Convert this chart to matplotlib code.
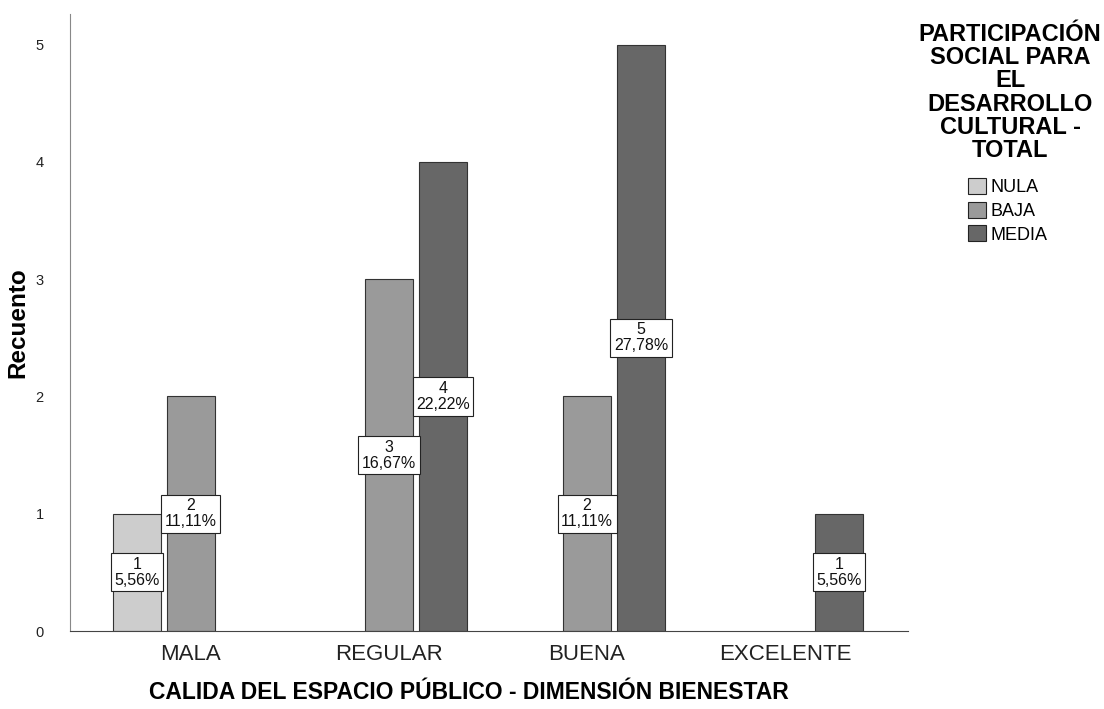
import matplotlib.pyplot as plt
import matplotlib.patches as mpatches
import numpy as np

plt.rcParams['font.family'] = ['Liberation Sans', 'DejaVu Sans']

categorias = ["MALA", "REGULAR", "BUENA", "EXCELENTE"]
grupos = ["NULA", "BAJA", "MEDIA"]
# recuentos por grupo (None = sin barra)
nula = [1, None, None, None]
baja = [2, 3, 2, None]
media = [None, 4, 5, 1]
porcentajes = {
    "NULA": ["5,56%", None, None, None],
    "BAJA": ["11,11%", "16,67%", "11,11%", None],
    "MEDIA": [None, "22,22%", "27,78%", "5,56%"],
}
titulo_leyenda = "PARTICIPACIÓN\nSOCIAL PARA\nEL\nDESARROLLO\nCULTURAL -\nTOTAL"
colores = {"NULA": "#cdcdcd", "BAJA": "#9a9a9a", "MEDIA": "#676767"}

fig = plt.figure(figsize=(11.04, 7.09), dpi=100)
ax = fig.add_axes([0.0634, 0.110, 0.759, 0.870])

x = np.arange(len(categorias))
ancho = 0.2424
paso = 0.2727
series = {"NULA": nula, "BAJA": baja, "MEDIA": media}

for j, g in enumerate(grupos):
    for i, v in enumerate(series[g]):
        if v is None:
            continue
        xp = x[i] + (j - 1) * paso
        ax.bar(xp, v, width=ancho, color=colores[g], edgecolor="#333333",
               linewidth=0.8, zorder=2)
        ax.text(xp, v / 2, f"{v}\n{porcentajes[g][i]}", ha="center", va="center",
                fontsize=11.5, linespacing=1.1, zorder=3, color="#111111",
                bbox=dict(boxstyle="square,pad=0.22", facecolor="white",
                          edgecolor="#222222", linewidth=0.8))

ax.set_xlim(-0.61, 3.62)
ax.set_ylim(0, 5.26)
ax.set_xticks(x)
ax.set_xticklabels(categorias, fontsize=16, color="#222222")
ax.set_yticks(range(6))
ax.tick_params(axis="y", length=0, labelsize=10.5, pad=19, labelcolor="#222222")
ax.tick_params(axis="x", length=0, pad=9)
for s in ["top", "right"]:
    ax.spines[s].set_visible(False)
ax.spines["left"].set_color("#888888")
ax.spines["bottom"].set_color("#444444")

ax.set_ylabel("Recuento", fontsize=17.5, fontweight="bold", labelpad=4)
ax.set_xlabel("CALIDA DEL ESPACIO PÚBLICO - DIMENSIÓN BIENESTAR",
              fontsize=16.5, fontweight="bold", labelpad=12)
ax.xaxis.label.set_x(0.476)

# titulo de la leyenda aparte para controlar el espacio
fig.text(0.915, 0.968, titulo_leyenda, ha="center", va="top", fontsize=17,
         fontweight="bold", linespacing=1.02, multialignment="center")

handles = [mpatches.Patch(facecolor=colores[g], edgecolor="#222222",
                          linewidth=0.8, label=g) for g in grupos]
fig.legend(handles=handles, loc="upper center", bbox_to_anchor=(0.913, 0.749),
           frameon=False, fontsize=13, handlelength=1.0, handleheight=1.0,
           handletextpad=0.25, labelspacing=0.3, borderaxespad=0, borderpad=0)

fig.savefig("out.png", dpi=100)
